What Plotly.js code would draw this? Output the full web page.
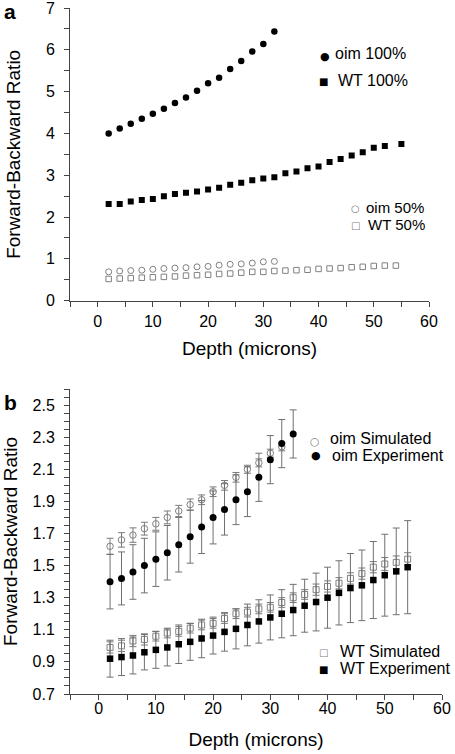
<!DOCTYPE html>
<html>
<head>
<meta charset="utf-8">
<script src="https://cdn.plot.ly/plotly-3.0.1.min.js"></script>
<style>
  html, body { margin: 0; padding: 0; background: #fff; }
  #chart { width: 455px; height: 754px; }
</style>
</head>
<body>
<div id="chart"></div>
<script>
// ---------- Panel a data ----------
const oim100X = [2,4,6,8,10,12,14,16,18,20,22,24,26,28,30,32];
const oim100Y = [4.00,4.12,4.23,4.35,4.47,4.59,4.73,4.86,5.02,5.20,5.33,5.54,5.73,5.96,6.14,6.44];

const wt100X = [2,4,6,8,10,12,14,16,18,20,22,24,26,28,30,32,34,36,38,40,42,44,46,48,50,52,55];
const wt100Y = [2.31,2.31,2.37,2.41,2.43,2.50,2.55,2.58,2.61,2.66,2.70,2.77,2.82,2.88,2.92,2.95,3.05,3.09,3.17,3.21,3.32,3.39,3.47,3.55,3.66,3.70,3.75];

const oim50X = [2,4,6,8,10,12,14,16,18,20,22,24,26,28,30,32];
const oim50Y = [0.69,0.71,0.72,0.73,0.75,0.77,0.78,0.79,0.81,0.82,0.85,0.87,0.88,0.90,0.93,0.94];

const wt50X = [2,4,6,8,10,12,14,16,18,20,22,24,26,28,30,32,34,36,38,40,42,44,46,48,50,52,54];
const wt50Y = [0.52,0.53,0.54,0.55,0.56,0.57,0.58,0.60,0.61,0.62,0.64,0.65,0.67,0.69,0.69,0.71,0.72,0.73,0.74,0.76,0.77,0.78,0.80,0.81,0.83,0.84,0.84];

// ---------- Panel b data ----------
const oimSimX = [2,4,6,8,10,12,14,16,18,20,22,24,26,28,30,32];
const oimSimY = [1.62,1.66,1.69,1.73,1.76,1.80,1.84,1.88,1.91,1.96,2.00,2.05,2.10,2.14,2.20,2.24];
const oimSimErr = [0.05,0.045,0.045,0.04,0.04,0.04,0.035,0.035,0.03,0.03,0.03,0.03,0.025,0.025,0.025,0.025];

const oimExpX = [2,4,6,8,10,12,14,16,18,20,22,24,26,28,30,32,34];
const oimExpY = [1.40,1.42,1.46,1.50,1.54,1.58,1.63,1.68,1.74,1.80,1.85,1.91,1.96,2.05,2.16,2.26,2.32];
const oimExpErr = [0.17,0.165,0.17,0.17,0.17,0.17,0.17,0.165,0.165,0.165,0.16,0.155,0.155,0.15,0.15,0.15,0.15];

const wtSimX = [2,4,6,8,10,12,14,16,18,20,22,24,26,28,30,32,34,36,38,40,42,44,46,48,50,52,54];
const wtSimY = [0.99,1.00,1.03,1.04,1.06,1.08,1.09,1.11,1.13,1.14,1.17,1.20,1.21,1.23,1.24,1.27,1.30,1.32,1.35,1.37,1.39,1.42,1.45,1.49,1.51,1.52,1.54];
const wtSimErr = [0.035,0.035,0.035,0.035,0.03,0.03,0.03,0.03,0.03,0.03,0.03,0.03,0.03,0.03,0.03,0.03,0.03,0.03,0.035,0.035,0.035,0.035,0.035,0.035,0.04,0.04,0.04];

const wtExpX = [2,4,6,8,10,12,14,16,18,20,22,24,26,28,30,32,34,36,38,40,42,44,46,48,50,52,54];
const wtExpY = [0.92,0.93,0.94,0.96,0.975,0.99,1.01,1.025,1.046,1.064,1.087,1.106,1.13,1.152,1.177,1.20,1.223,1.25,1.273,1.30,1.33,1.36,1.377,1.41,1.44,1.464,1.49];
const wtExpErr = [0.115,0.115,0.115,0.11,0.115,0.115,0.12,0.115,0.12,0.115,0.12,0.125,0.13,0.135,0.14,0.15,0.16,0.165,0.18,0.19,0.2,0.215,0.22,0.24,0.255,0.27,0.29];

const FONT = 'Liberation Sans, Arial, sans-serif';
const GRAY = '#808080';

function pts(x, y, symbol, color, size, lw, xa, ya, err, errColor) {
  const t = {
    x: x, y: y, type: 'scatter', mode: 'markers',
    xaxis: xa, yaxis: ya, showlegend: false, hoverinfo: 'skip',
    marker: { symbol: symbol, color: color, size: size, line: { color: color, width: lw } }
  };
  if (err) {
    t.error_y = { type: 'data', array: err, visible: true, color: errColor, thickness: 1, width: 3.5 };
  }
  return t;
}

const data = [
  pts(oim50X, oim50Y, 'circle-open', GRAY, 6, 1, 'x', 'y'),
  pts(wt50X, wt50Y, 'square-open', GRAY, 5.5, 1, 'x', 'y'),
  pts(oim100X, oim100Y, 'circle', '#000', 6.5, 0, 'x', 'y'),
  pts(wt100X, wt100Y, 'square', '#000', 6, 0, 'x', 'y'),

  pts(wtSimX, wtSimY, 'square-open', GRAY, 6, 1, 'x2', 'y2', wtSimErr, '#7a7a7a'),
  pts(oimSimX, oimSimY, 'circle-open', GRAY, 6.5, 1, 'x2', 'y2', oimSimErr, '#7a7a7a'),
  pts(wtExpX, wtExpY, 'square', '#000', 6.5, 0, 'x2', 'y2', wtExpErr, '#707070'),
  pts(oimExpX, oimExpY, 'circle', '#000', 7, 0, 'x2', 'y2', oimExpErr, '#707070')
];

const W = 455, H = 754;
const px = v => v / W;
const py = v => 1 - v / H;

const axisCommon = {
  showgrid: false, zeroline: false, showline: true, linecolor: '#444', linewidth: 1,
  ticks: 'outside', ticklen: 5, tickcolor: '#444', tickwidth: 1,
  tickfont: { family: FONT, size: 16, color: '#000' },
  ticklabeloverflow: 'allow',
  fixedrange: true
};

function ax(extra) { return Object.assign(JSON.parse(JSON.stringify(axisCommon)), extra); }

const layout = {
  width: W, height: H,
  margin: { l: 0, r: 0, t: 0, b: 0 },
  paper_bgcolor: '#fff', plot_bgcolor: '#fff',
  font: { family: FONT, color: '#000' },
  xaxis: ax({
    domain: [px(70), px(429)], anchor: 'y', range: [-5, 60],
    tickmode: 'linear', tick0: 0, dtick: 10, ticklabelstandoff: 1,
    minor: { dtick: 5, tick0: 0, ticks: 'outside', ticklen: 5, tickcolor: '#444' },
    title: { text: 'Depth (microns)', font: { family: FONT, size: 19, color: '#000' }, standoff: 12 }
  }),
  yaxis: ax({
    domain: [py(300.7), py(8)], anchor: 'x', range: [0, 7],
    tickmode: 'linear', tick0: 0, dtick: 1, ticklabelstandoff: 6,
    minor: { dtick: 0.5, tick0: 0, ticks: 'outside', ticklen: 5, tickcolor: '#444' },
    title: { text: 'Forward-Backward Ratio', font: { family: FONT, size: 19, color: '#000' }, standoff: 20 }
  }),
  xaxis2: ax({
    domain: [px(70), px(442)], anchor: 'y2', range: [-5, 60],
    tickmode: 'linear', tick0: 0, dtick: 10, ticklabelstandoff: -5,
    minor: { dtick: 5, tick0: 0, ticks: 'outside', ticklen: 5, tickcolor: '#444' },
    title: { text: 'Depth (microns)', font: { family: FONT, size: 19, color: '#000' }, standoff: 16 }
  }),
  yaxis2: ax({
    domain: [py(694), py(389)], anchor: 'x2', range: [0.7, 2.6],
    tickmode: 'linear', tick0: 0.7, dtick: 0.2, tickformat: '.1f', ticklabelstandoff: 6,
    minor: { dtick: 0.05, tick0: 0.7, ticks: 'outside', ticklen: 5, tickcolor: '#444' },
    title: { text: 'Forward-Backward Ratio', font: { family: FONT, size: 19, color: '#000' }, standoff: 20 }
  }),
  annotations: []
};

function label(text, x, y, opts) {
  return Object.assign({
    text: text, xref: 'paper', yref: 'paper', x: px(x), y: py(y),
    xanchor: 'left', yanchor: 'middle', showarrow: false, borderpad: 0,
    font: { family: FONT, size: 16, color: '#000' }
  }, opts || {});
}
function sym(ch, x, y, color, size) {
  return label(ch, x, y, { xanchor: 'center', font: { family: 'DejaVu Sans, sans-serif', size: size, color: color } });
}

layout.annotations.push(
  label('<b>a</b>', 3, 12, { font: { family: FONT, size: 21, color: '#000' } }),
  label('<b>b</b>', 3, 402, { font: { family: FONT, size: 21, color: '#000' } }),

  sym('●', 325, 56, '#000', 11), label('oim 100%', 334, 54),
  sym('■', 323, 81, '#000', 10), label('WT 100%', 337, 80),
  sym('○', 355, 208, GRAY, 10), label('oim 50%', 365, 207.5, { font: { family: FONT, size: 15, color: '#000' } }),
  sym('□', 355, 225, GRAY, 10), label('WT 50%', 367, 224.5, { font: { family: FONT, size: 15, color: '#000' } }),

  sym('○', 315, 441, GRAY, 11), label('oim Simulated', 329, 438),
  sym('●', 316, 456, '#000', 11), label('oim Experiment', 331, 456),
  sym('□', 323, 652, GRAY, 10), label('WT Simulated', 339, 651),
  sym('■', 323, 669, '#000', 10), label('WT Experiment', 339, 668)
);

Plotly.newPlot('chart', data, layout, { displayModeBar: false, staticPlot: true });
</script>
</body>
</html>
